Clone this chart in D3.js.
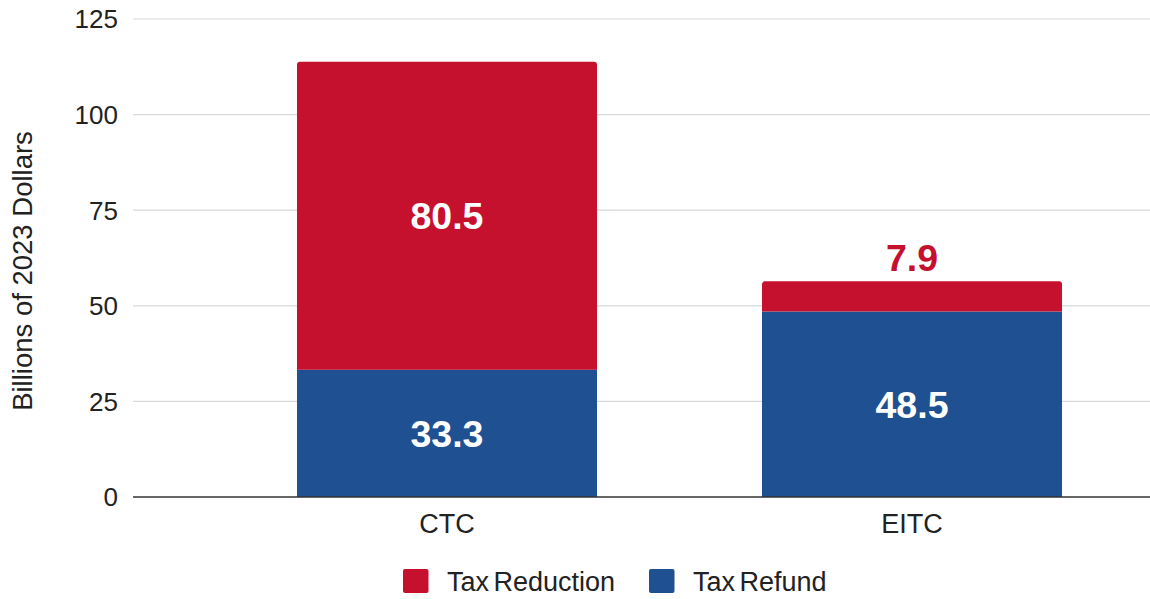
<!DOCTYPE html>
<html>
<head>
<meta charset="utf-8">
<script src="https://cdn.jsdelivr.net/npm/d3@7"></script>
<style>
  html, body { margin: 0; padding: 0; background: #fff; }
  svg { display: block; font-family: "Liberation Sans", Arial, sans-serif; }
</style>
</head>
<body>
<svg id="chart" width="1150" height="599"></svg>
<script>
const categories = ["CTC", "EITC"];
const taxRefund = [33.3, 48.5];
const taxReduction = [80.5, 7.9];
const yTicks = [0, 25, 50, 75, 100, 125];
const seriesNames = ["Tax Reduction", "Tax Refund"];
const seriesColors = ["#C5112E", "#1F5091"];
const yTitle = "Billions of 2023 Dollars";

const W = 1150, H = 599;
const svg = d3.select("#chart");

const plotLeft = 133, plotRight = 1150;
const y = d3.scaleLinear().domain([0, 125]).range([497, 19]);
const x = d3.scaleBand().domain(categories).range([132, 1227]).paddingInner(0.3548).paddingOuter(0.3548);

// gridlines
svg.append("g").selectAll("line").data(yTicks.filter(d => d !== 0)).join("line")
  .attr("x1", plotLeft).attr("x2", plotRight)
  .attr("y1", d => y(d)).attr("y2", d => y(d))
  .attr("stroke", "#d9d9d9").attr("stroke-width", 1.2);

// y tick labels
svg.append("g").selectAll("text").data(yTicks).join("text")
  .attr("x", 118).attr("y", d => y(d)).attr("dy", "0.36em")
  .attr("text-anchor", "end").attr("font-size", 26).attr("fill", "#222")
  .text(d => d);

// y title
svg.append("text")
  .attr("transform", `translate(32, ${(y(0)+y(125))/2 + 13}) rotate(-90)`)
  .attr("text-anchor", "middle").attr("font-size", 27.5).attr("fill", "#222")
  .text(yTitle);

const rows = categories.map((c, i) => ({ cat: c, refund: taxRefund[i], reduction: taxReduction[i] }));
const bw = x.bandwidth();
const r = 3;

// refund bars (bottom)
svg.append("g").selectAll("rect").data(rows).join("rect")
  .attr("x", d => x(d.cat)).attr("width", bw)
  .attr("y", d => y(d.refund)).attr("height", d => y(0) - y(d.refund))
  .attr("fill", seriesColors[1]);

// reduction bars (top) with rounded top corners
svg.append("g").selectAll("path").data(rows).join("path")
  .attr("d", d => {
    const x0 = x(d.cat), x1 = x0 + bw;
    const yt = y(d.refund + d.reduction), yb = y(d.refund);
    return `M${x0},${yb} L${x0},${yt + r} Q${x0},${yt} ${x0 + r},${yt} L${x1 - r},${yt} Q${x1},${yt} ${x1},${yt + r} L${x1},${yb} Z`;
  })
  .attr("fill", seriesColors[0]);

// baseline
svg.append("line").attr("x1", plotLeft).attr("x2", plotRight)
  .attr("y1", y(0)).attr("y2", y(0)).attr("stroke", "#333").attr("stroke-width", 1.3);

// value labels
const lab = svg.append("g").attr("font-weight", "bold").attr("font-size", 37.5).attr("text-anchor", "middle");
rows.forEach(d => {
  const cx = x(d.cat) + bw / 2;
  lab.append("text").attr("x", cx).attr("y", (y(0) + y(d.refund)) / 2).attr("dy", "0.36em")
    .attr("fill", "#fff").text(d.refund.toFixed(1));
  const segH = y(d.refund) - y(d.refund + d.reduction);
  if (segH > 50) {
    lab.append("text").attr("x", cx).attr("y", (y(d.refund) + y(d.refund + d.reduction)) / 2).attr("dy", "0.36em")
      .attr("fill", "#fff").text(d.reduction.toFixed(1));
  } else {
    lab.append("text").attr("x", cx).attr("y", y(d.refund + d.reduction) - 10)
      .attr("fill", seriesColors[0]).text(d.reduction.toFixed(1));
  }
});

// category labels
svg.append("g").selectAll("text").data(categories).join("text")
  .attr("x", d => x(d) + bw / 2).attr("y", 523).attr("dy", "0.36em")
  .attr("text-anchor", "middle").attr("font-size", 27).attr("fill", "#222")
  .text(d => d);

// legend
const legendX = [403, 649];
const lg = svg.append("g");
seriesNames.forEach((n, i) => {
  lg.append("rect").attr("x", legendX[i]).attr("y", 569).attr("width", 25.5).attr("height", 24)
    .attr("rx", 2).attr("fill", seriesColors[i]);
  lg.append("text").attr("x", legendX[i] + 44).attr("y", 581).attr("dy", "0.36em")
    .attr("font-size", 27).attr("fill", "#222").attr("word-spacing", -3).text(n);
});
</script>
</body>
</html>
